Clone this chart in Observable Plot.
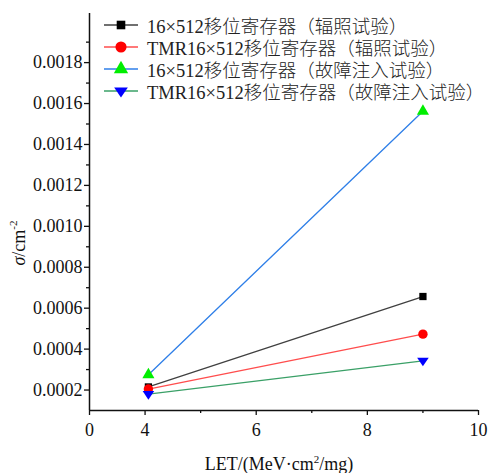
<!DOCTYPE html>
<html><head><meta charset="utf-8">
<script src="https://cdn.jsdelivr.net/npm/d3@7"></script>
<script src="https://cdn.jsdelivr.net/npm/@observablehq/plot@0.6"></script>
<style>
body{margin:0;background:#fff;}
#wrap{position:relative;width:489px;height:473px;}
#legend{position:absolute;left:104px;top:14px;font-family:"Liberation Serif","Noto Sans CJK SC",serif;font-size:18.5px;color:#222;font-weight:300;}
.row{height:22px;display:flex;align-items:center;white-space:nowrap;}
.row svg{margin-right:9px;flex:none;}
</style></head>
<body><div id="wrap"><div id="legend"></div></div>
<script>
const seriesNames = ["16×512移位寄存器（辐照试验）","TMR16×512移位寄存器（辐照试验）","16×512移位寄存器（故障注入试验）","TMR16×512移位寄存器（故障注入试验）"];
const letValues = [4.06, 9];
const s1 = [0.000215, 0.000657];
const s2 = [0.000205, 0.000473];
const s3 = [0.000275, 0.001562];
const s4 = [0.000180, 0.000343];
const xTicks = [3,4,6,8,10];
const xTickLabels = ["0","4","6","8","10"];
const yTicks = [0.0002,0.0004,0.0006,0.0008,0.0010,0.0012,0.0014,0.0016,0.0018];

const lineColors = ["#404040","#ff4d4d","#2f7fe8","#3aa067"];
const markColors = ["#000000","#ff0000","#00ee00","#0000ff"];
const triangleDown = {draw(ctx, size){const h=Math.sqrt(size/(3*Math.sqrt(3)))*1.5; const w=h*2/Math.sqrt(3); ctx.moveTo(-w, -h*0.6); ctx.lineTo(w,-h*0.6); ctx.lineTo(0,h*1.1); ctx.closePath();}};
const symbols = ["square","circle","triangle",triangleDown];
const radii = [4.1,4.7,4.5,4.3];

const all = [s1,s2,s3,s4];
const data = [];
all.forEach((s,i)=>s.forEach((v,j)=>data.push({series:seriesNames[i], idx:i, x:letValues[j], y:v})));

const marks = [];
all.forEach((s,i)=>{
  const d = data.filter(e=>e.idx===i);
  marks.push(Plot.line(d,{x:"x",y:"y",stroke:lineColors[i],strokeWidth:1.3}));
});
all.forEach((s,i)=>{
  const d = data.filter(e=>e.idx===i);
  marks.push(Plot.dot(d,{x:"x",y:"y",symbol:()=>symbols[i],fill:markColors[i],stroke:"none",r:radii[i]}));
});

const chart = Plot.plot({
  width:489, height:473,
  marginLeft:89, marginRight:11, marginTop:13, marginBottom:63,
  style:{fontFamily:"Liberation Serif, serif", fontSize:"18px", color:"#111", background:"#fff"},
  x:{domain:[3,10]},
  y:{domain:[0.0001,0.00204]},
  symbol:{type:"identity"},
  marks:[
    Plot.axisX({ticks:xTicks, tickFormat:(d)=>xTickLabels[xTicks.indexOf(d)], tickSize:5, tickPadding:8, label:null, strokeWidth:1.3}),
    Plot.axisX({ticks:[5,7,9], tickSize:3, text:null, label:null, strokeWidth:1.3}),
    Plot.axisY({ticks:yTicks, tickFormat:d=>d.toFixed(4), tickSize:5, tickPadding:2, label:null, strokeWidth:1.3}),
    Plot.axisY({ticks:[0.0003,0.0005,0.0007,0.0009,0.0011,0.0013,0.0015,0.0017,0.0019], tickSize:3, text:null, label:null, strokeWidth:1.3}),
    Plot.ruleY([0.0001],{stroke:"#111",strokeWidth:1.5}),
    Plot.ruleX([3],{stroke:"#111",strokeWidth:1.5}),
    ...marks
  ]
});
document.getElementById("wrap").prepend(chart);

const svg = d3.select(chart);
const yl = svg.append("text").attr("transform","translate(21,243) rotate(-90)").attr("text-anchor","middle").attr("dominant-baseline","middle").style("font-family","Liberation Serif, serif").style("font-size","18px").attr("fill","#111");
yl.append("tspan").style("font-style","italic").text("σ");
yl.append("tspan").text("/cm");
yl.append("tspan").attr("dy","-7").style("font-size","11px").text("-2");
const xl = svg.append("text").attr("x",279).attr("y",470).attr("text-anchor","middle").style("font-family","Liberation Serif, serif").style("font-size","18px").attr("fill","#111");
xl.append("tspan").text("LET/(MeV·cm");
xl.append("tspan").attr("dy","-7").style("font-size","11px").text("2");
xl.append("tspan").attr("dy","7").text("/mg)");

const leg = d3.select("#legend");
seriesNames.forEach((n,i)=>{
  const row = leg.append("div").attr("class","row");
  const s = row.append("svg").attr("width",34).attr("height",22);
  s.append("line").attr("x1",0).attr("x2",34).attr("y1",11).attr("y2",11).attr("stroke",lineColors[i]).attr("stroke-width",1.3);
  const sym = typeof symbols[i]==="string" ? {square:d3.symbolSquare,circle:d3.symbolCircle,triangle:d3.symbolTriangle}[symbols[i]] : symbols[i];
  s.append("path").attr("transform","translate(17,11)").attr("d",d3.symbol(sym, Math.PI*radii[i]*radii[i]*1.4)()).attr("fill",markColors[i]);
  row.append("span").text(n);
});
</script></body></html>
